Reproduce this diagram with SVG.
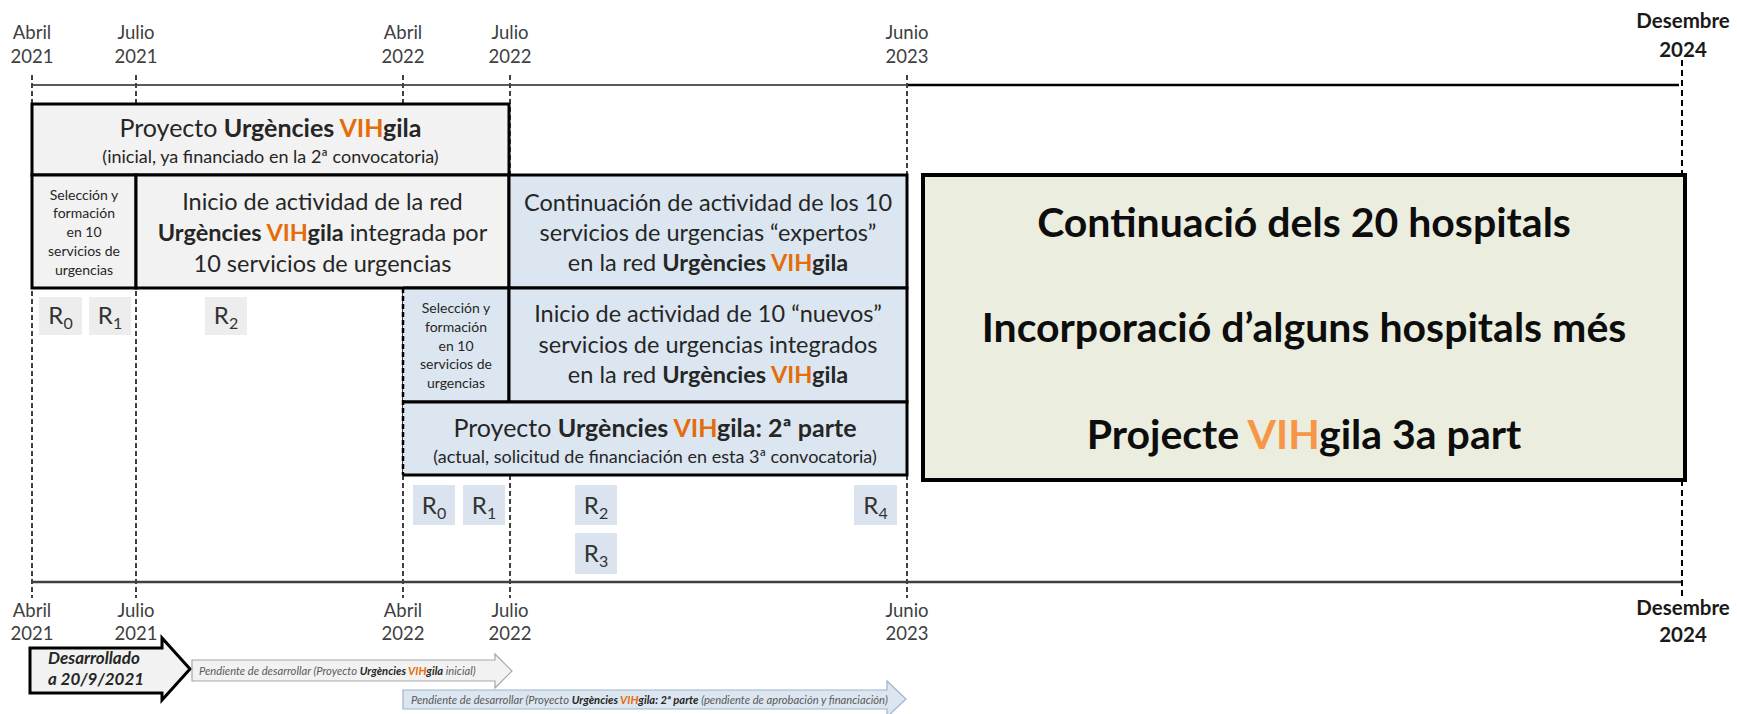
<svg xmlns="http://www.w3.org/2000/svg" width="1737" height="714" viewBox="0 0 1737 714">
<style>
text{font-family:Lato,"Open Sans","Liberation Sans",sans-serif;fill:#262626}
.ax{font-size:18.5px;fill:#404040;text-anchor:middle}
.axb{font-size:20.5px;font-weight:700;fill:#1a1a1a;text-anchor:middle}
.c{text-anchor:middle}
.t24{font-size:25px}
.t16{font-size:18px}
.t21{font-size:23.5px}
.t12{font-size:14px}
.g{font-size:41px;font-weight:700;fill:#0d0d0d;text-anchor:middle}
.b{font-weight:700}
.o{fill:#e46c0a;font-weight:700}
.o2{fill:#f79646;font-weight:700}
.grey{fill:#f2f2f2}
.blue{fill:#dce6f1}
.bd{fill:none;stroke:#000;stroke-width:3}
.dash{stroke:#404040;stroke-width:2;stroke-dasharray:5 3;fill:none}
.rg{fill:#ededed}
.rb{fill:#dae3ee}
.r{font-size:24px;text-anchor:middle;fill:#333}
.sub{font-size:16px}
.sm{font-size:11.2px;font-style:italic;fill:#595959}
</style>

<g id="connectors">
  <line x1="32" y1="85" x2="907" y2="85" stroke="#595959" stroke-width="2"/>
  <line x1="907" y1="85" x2="1679" y2="85" stroke="#000" stroke-width="2.5"/>
  <line x1="32" y1="582" x2="1682" y2="582" stroke="#404040" stroke-width="2.5"/>
  <line class="dash" x1="32" y1="75" x2="32" y2="598"/>
  <line class="dash" x1="136" y1="75" x2="136" y2="598"/>
  <line class="dash" x1="403" y1="75" x2="403" y2="598"/>
  <line class="dash" x1="510" y1="75" x2="510" y2="598"/>
  <line class="dash" x1="907" y1="75" x2="907" y2="598"/>
  <line x1="1682" y1="60" x2="1682" y2="176" stroke="#000" stroke-width="2" stroke-dasharray="6 4"/>
  <line x1="1682" y1="480" x2="1682" y2="596" stroke="#000" stroke-width="2" stroke-dasharray="6 4"/>
</g>

<g id="axis-labels">
  <text class="ax" x="32" y="39">Abril</text><text class="ax" x="32" y="63">2021</text>
  <text class="ax" x="136" y="39">Julio</text><text class="ax" x="136" y="63">2021</text>
  <text class="ax" x="403" y="39">Abril</text><text class="ax" x="403" y="63">2022</text>
  <text class="ax" x="510" y="39">Julio</text><text class="ax" x="510" y="63">2022</text>
  <text class="ax" x="907" y="39">Junio</text><text class="ax" x="907" y="63">2023</text>
  <text class="axb" x="1683" y="28">Desembre</text><text class="axb" x="1683" y="57">2024</text>
  <text class="ax" x="32" y="617">Abril</text><text class="ax" x="32" y="640">2021</text>
  <text class="ax" x="136" y="617">Julio</text><text class="ax" x="136" y="640">2021</text>
  <text class="ax" x="403" y="617">Abril</text><text class="ax" x="403" y="640">2022</text>
  <text class="ax" x="510" y="617">Julio</text><text class="ax" x="510" y="640">2022</text>
  <text class="ax" x="907" y="617">Junio</text><text class="ax" x="907" y="640">2023</text>
  <text class="axb" x="1683" y="615">Desembre</text><text class="axb" x="1683" y="642">2024</text>
</g>

<g id="proyecto-inicial">
  <rect class="grey" x="32" y="104" width="477" height="71"/>
  <rect class="bd" x="32" y="104" width="477" height="71"/>
  <text class="c t24" x="270.5" y="137">Proyecto <tspan class="b">Urgències </tspan><tspan class="o">VIH</tspan><tspan class="b">gila</tspan></text>
  <text class="c t16" x="270.5" y="163">(inicial, ya financiado en la 2ª convocatoria)</text>
</g>

<g id="seleccion-1">
  <rect class="grey" x="32" y="175" width="104" height="113"/>
  <rect class="bd" x="32" y="175" width="104" height="113"/>
  <text class="c t12" x="84" y="200">Selección y</text>
  <text class="c t12" x="84" y="218">formación</text>
  <text class="c t12" x="84" y="237">en 10</text>
  <text class="c t12" x="84" y="256">servicios de</text>
  <text class="c t12" x="84" y="275">urgencias</text>
</g>

<g id="inicio-red">
  <rect class="grey" x="136" y="175" width="373" height="113"/>
  <rect class="bd" x="136" y="175" width="373" height="113"/>
  <text class="c t21" x="322.5" y="210">Inicio de actividad de la red</text>
  <text class="c t21" x="322.5" y="241"><tspan class="b">Urgències </tspan><tspan class="o">VIH</tspan><tspan class="b">gila</tspan> integrada por</text>
  <text class="c t21" x="322.5" y="272">10 servicios de urgencias</text>
</g>

<g id="continuacion">
  <rect class="blue" x="509" y="175" width="398" height="113"/>
  <rect class="bd" x="509" y="175" width="398" height="113"/>
  <text class="c t21" x="708" y="211">Continuación de actividad de los 10</text>
  <text class="c t21" x="708" y="241">servicios de urgencias “expertos”</text>
  <text class="c t21" x="708" y="271">en la red <tspan class="b">Urgències </tspan><tspan class="o">VIH</tspan><tspan class="b">gila</tspan></text>
</g>

<g id="seleccion-2">
  <rect class="blue" x="403" y="288" width="106" height="114"/>
  <path class="bd" d="M403,288 H509 V402 H403"/>
  <text class="c t12" x="456" y="313">Selección y</text>
  <text class="c t12" x="456" y="332">formación</text>
  <text class="c t12" x="456" y="351">en 10</text>
  <text class="c t12" x="456" y="369">servicios de</text>
  <text class="c t12" x="456" y="388">urgencias</text>
</g>

<g id="inicio-nuevos">
  <rect class="blue" x="509" y="288" width="398" height="114"/>
  <rect class="bd" x="509" y="288" width="398" height="114"/>
  <text class="c t21" x="708" y="322">Inicio de actividad de 10 “nuevos”</text>
  <text class="c t21" x="708" y="353">servicios de urgencias integrados</text>
  <text class="c t21" x="708" y="383">en la red <tspan class="b">Urgències </tspan><tspan class="o">VIH</tspan><tspan class="b">gila</tspan></text>
</g>

<g id="proyecto-2a-parte">
  <rect class="blue" x="403" y="402" width="504" height="73"/>
  <path class="bd" d="M403,402 H907 V475 H403"/>
  <line x1="403" y1="288" x2="403" y2="475" stroke="#000" stroke-width="2.5" stroke-dasharray="5 3"/>
  <text class="c t24" x="655" y="437">Proyecto <tspan class="b">Urgències </tspan><tspan class="o">VIH</tspan><tspan class="b">gila: 2ª parte</tspan></text>
  <text class="c t16" x="655" y="463">(actual, solicitud de financiación en esta 3ª convocatoria)</text>
</g>

<g id="resultados-1">
  <rect class="rg" x="39" y="297" width="43" height="38"/>
  <text class="r" x="60.5" y="324">R<tspan class="sub" dy="5">0</tspan></text>
  <rect class="rg" x="89" y="297" width="42" height="38"/>
  <text class="r" x="110" y="324">R<tspan class="sub" dy="5">1</tspan></text>
  <rect class="rg" x="205" y="297" width="42" height="38"/>
  <text class="r" x="226" y="324">R<tspan class="sub" dy="5">2</tspan></text>
</g>

<g id="resultados-2">
  <rect class="rb" x="413" y="485" width="42" height="40"/>
  <text class="r" x="434" y="514">R<tspan class="sub" dy="5">0</tspan></text>
  <rect class="rb" x="463" y="485" width="42" height="40"/>
  <text class="r" x="484" y="514">R<tspan class="sub" dy="5">1</tspan></text>
  <rect class="rb" x="575" y="485" width="42" height="40"/>
  <text class="r" x="596" y="514">R<tspan class="sub" dy="5">2</tspan></text>
  <rect class="rb" x="575" y="533" width="42" height="41"/>
  <text class="r" x="596" y="562">R<tspan class="sub" dy="5">3</tspan></text>
  <rect class="rb" x="854" y="485" width="43" height="40"/>
  <text class="r" x="875.5" y="514">R<tspan class="sub" dy="5">4</tspan></text>
</g>

<g id="continuacio-2024">
  <rect x="923" y="175" width="762" height="305" fill="#ebeddf" stroke="#000" stroke-width="4"/>
  <text class="g" x="1304" y="237">Continuació dels 20 hospitals</text>
  <text class="g" x="1304" y="342">Incorporació d’alguns hospitals més</text>
  <text class="g" x="1304" y="449">Projecte <tspan class="o2">VIH</tspan>gila 3a part</text>
</g>

<g id="desarrollado">
  <polygon points="30,648 162,648 162,638 190,669 162,700 162,693 30,693" fill="#f2f2f2" stroke="#000" stroke-width="3" stroke-linejoin="miter"/>
  <text x="48" y="664" font-size="17" font-weight="700" font-style="italic">Desarrollado</text>
  <text x="48" y="685" font-size="17" font-weight="700" font-style="italic">a 20/9/2021</text>
</g>

<g id="pendiente-inicial">
  <polygon points="192,660 495,660 495,654 512,671 495,688 495,681 192,681" fill="#f2f2f2" stroke="#a6a6a6" stroke-width="1.2"/>
  <text class="sm" x="199" y="675">Pendiente de desarrollar (Proyecto <tspan class="b" fill="#262626">Urgències </tspan><tspan class="o">VIH</tspan><tspan class="b" fill="#262626">gila</tspan> inicial)</text>
</g>

<g id="pendiente-2a-parte">
  <polygon points="403,690 887,690 887,681 906,699 887,717 887,709 403,709" fill="#dce6f1" stroke="#9fb4cc" stroke-width="1.2"/>
  <text class="sm" x="411" y="703.5">Pendiente de desarrollar (Proyecto <tspan class="b" fill="#262626">Urgències </tspan><tspan class="o">VIH</tspan><tspan class="b" fill="#262626">gila: 2ª parte</tspan> (pendiente de aprobación y financiación)</text>
</g>
</svg>
